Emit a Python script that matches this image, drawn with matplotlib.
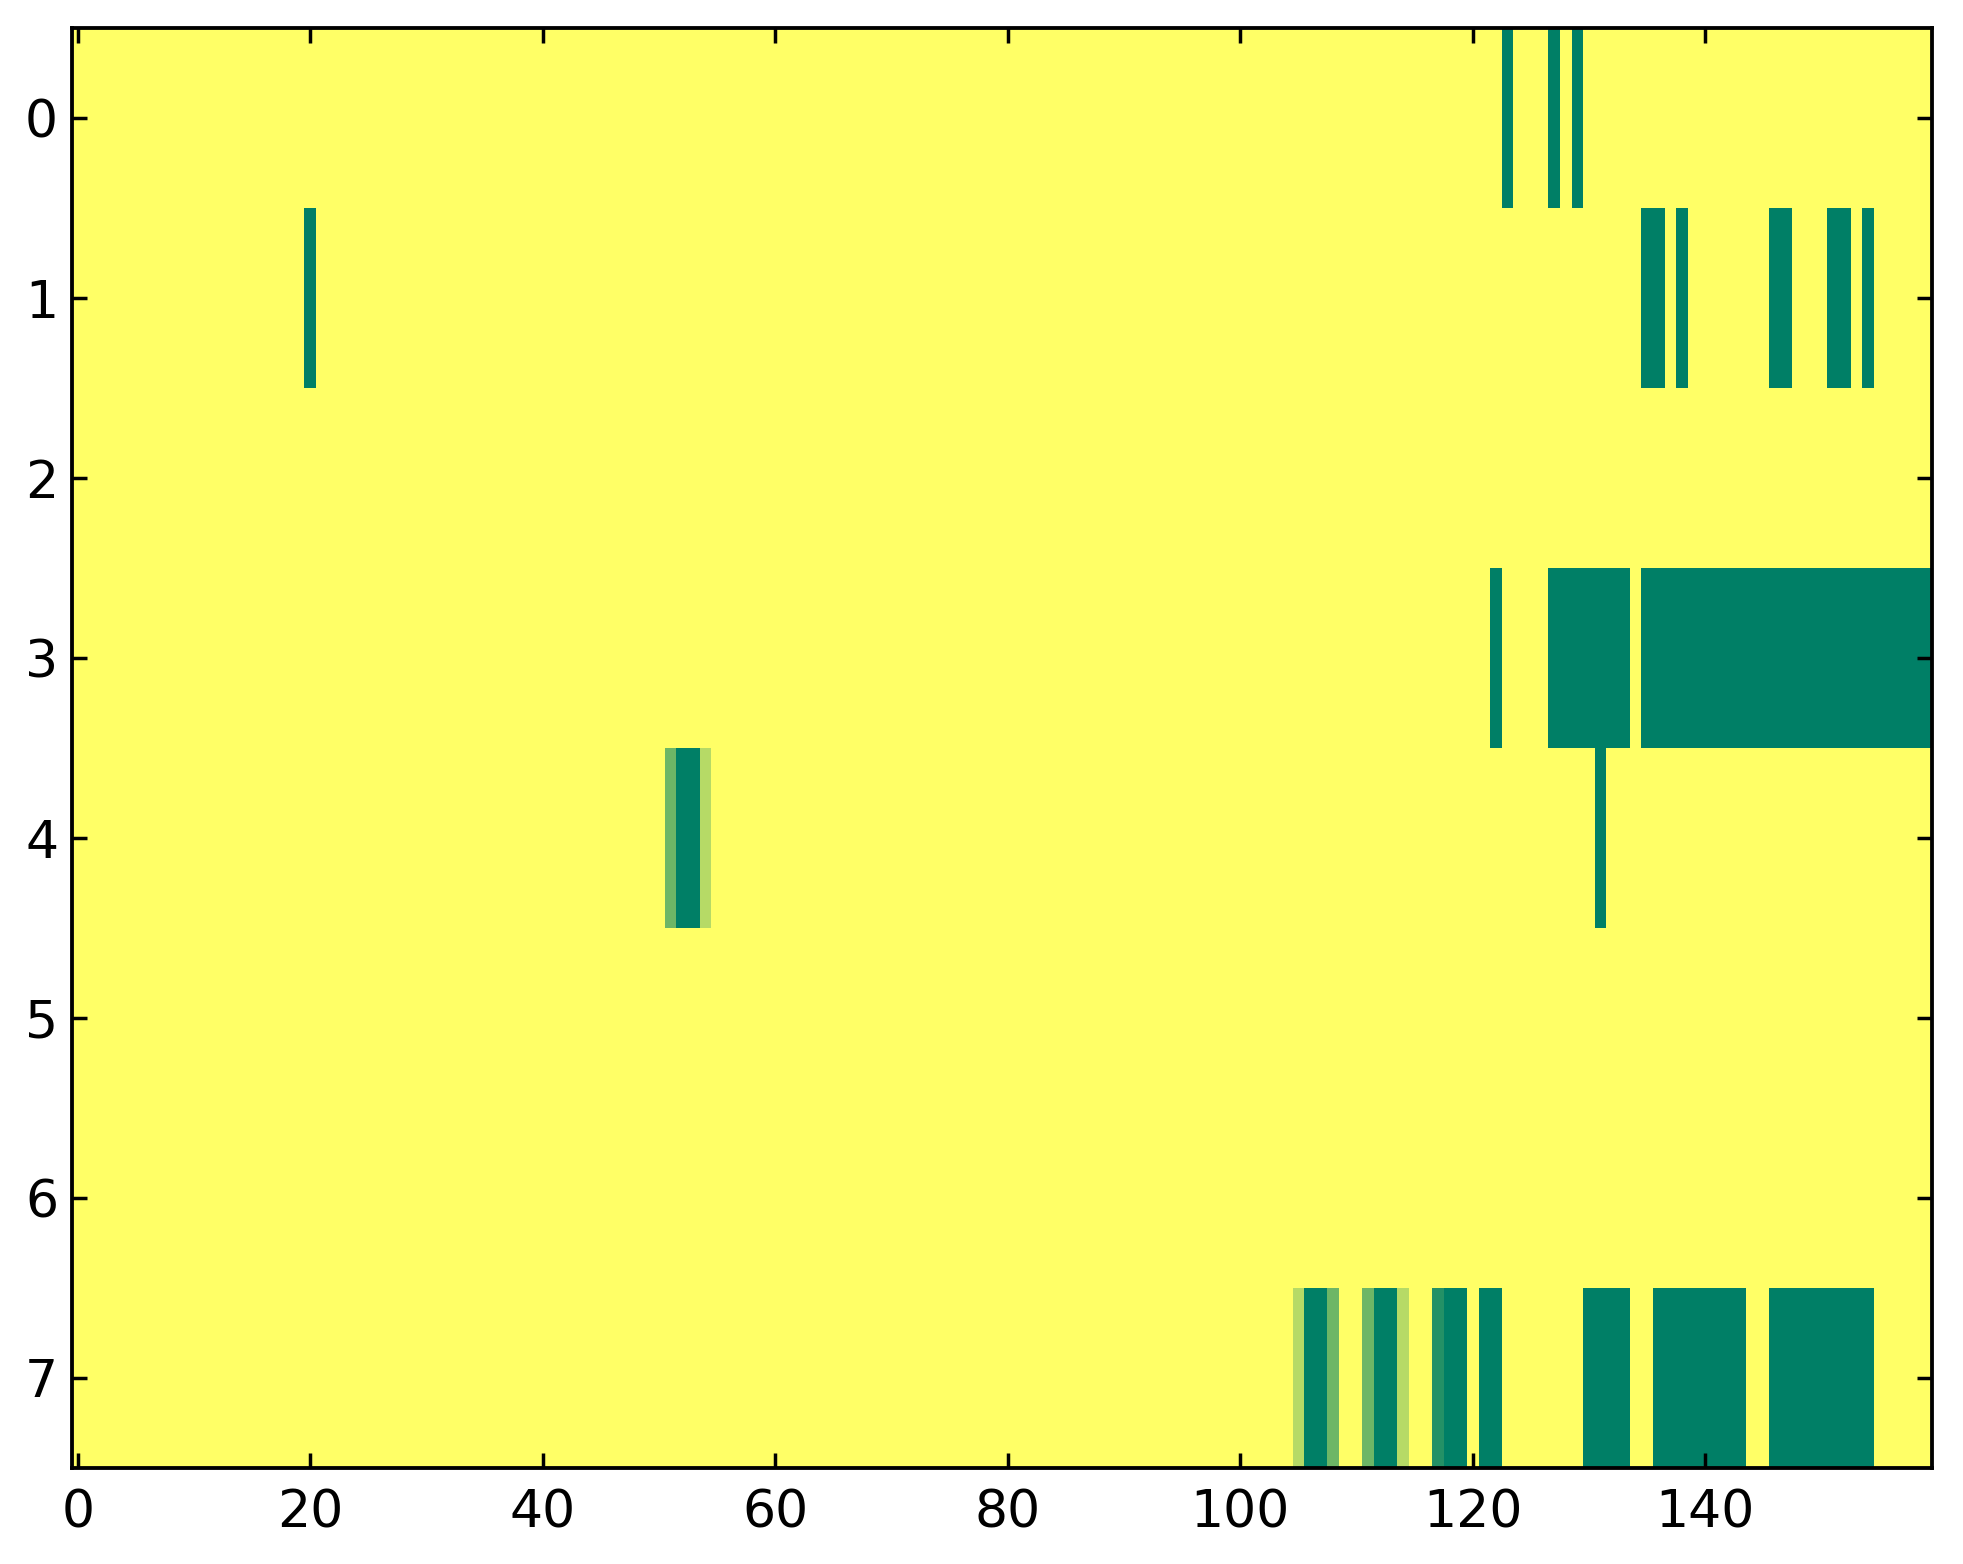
import numpy as np
import matplotlib
matplotlib.use("Agg")
import matplotlib.pyplot as plt

n_rows = 8
n_cols = 160

# (row, first column, last column, value) -- value 0 = yellow, 1 = dark green
span_rows = [0, 0, 0,
             1, 1, 1, 1, 1, 1,
             3, 3, 3,
             4, 4, 4, 4,
             7, 7, 7, 7, 7, 7, 7, 7, 7, 7, 7, 7]
span_start = [123, 127, 129,
              20, 135, 138, 146, 151, 154,
              122, 127, 135,
              51, 52, 54, 131,
              105, 106, 108, 111, 112, 114, 117, 118, 121, 130, 136, 146]
span_end = [123, 127, 129,
            20, 136, 138, 147, 152, 154,
            122, 133, 159,
            51, 53, 54, 131,
            105, 107, 108, 111, 113, 114, 117, 119, 122, 133, 143, 154]
span_value = [1, 1, 1,
              1, 1, 1, 1, 1, 1,
              1, 1, 1,
              4 / 7, 1, 2 / 7, 1,
              2 / 7, 1, 4 / 7, 4 / 7, 1, 2 / 7, 6 / 7, 1, 1, 1, 1, 1]

xtick_values = [0, 20, 40, 60, 80, 100, 120, 140]
ytick_values = [0, 1, 2, 3, 4, 5, 6, 7]

grid = np.zeros((n_rows, n_cols))
for r, a, b, v in zip(span_rows, span_start, span_end, span_value):
    grid[r, a:b + 1] = v

fig = plt.figure(figsize=(1963 / 250, 1564 / 250), dpi=250)
ax = fig.add_axes([0.0367, 0.0614, 0.9475, 0.9206])
ax.imshow(grid, cmap="summer_r", vmin=0, vmax=1, aspect="auto",
          interpolation="nearest")

ax.set_xticks(xtick_values)
ax.set_yticks(ytick_values)
ax.tick_params(direction="in", top=True, right=True, length=4.3, width=1,
               labelsize=15)
ax.tick_params(axis="x", pad=6)
ax.tick_params(axis="y", pad=4)
for spine in ax.spines.values():
    spine.set_linewidth(1.1)

fig.savefig("out.png", dpi=250, facecolor="white")
